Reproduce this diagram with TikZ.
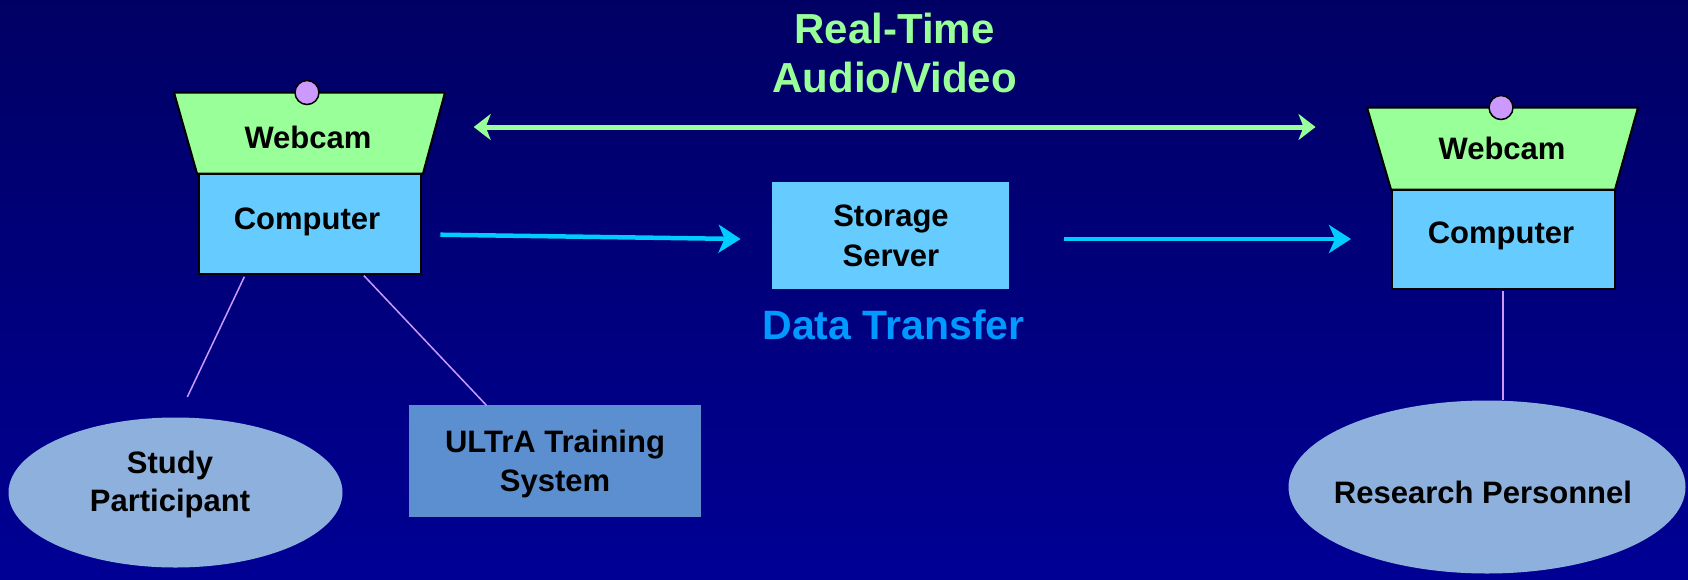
\documentclass[tikz,border=0pt]{standalone}
\usepackage{fontspec}
\setmainfont{Liberation Sans}
\usetikzlibrary{arrows.meta,shapes.geometric}
\definecolor{bgtop}{RGB}{0,0,100}
\definecolor{bgbot}{RGB}{0,0,148}
\definecolor{camgreen}{RGB}{153,255,153}
\definecolor{compblue}{RGB}{102,204,255}
\definecolor{lens}{RGB}{204,153,255}
\definecolor{ultra}{RGB}{91,143,207}
\definecolor{person}{RGB}{141,176,220}
\definecolor{datablue}{RGB}{0,153,255}
\definecolor{arrowcyan}{RGB}{0,204,255}
\definecolor{linkviolet}{RGB}{204,153,255}
\tikzset{
  lbl/.style={font=\bfseries\fontsize{31}{39}\selectfont, text=black, align=center, inner sep=0pt},
  compbox/.style={draw=black, line width=2pt, fill=compblue, minimum width=222pt, minimum height=100pt, inner sep=0pt},
  campoly/.style={draw=black, line width=2pt, fill=camgreen, line join=miter},
  lensdot/.style={circle, draw=black, line width=1.5pt, fill=lens, minimum size=24pt, inner sep=0pt},
  link/.style={draw=linkviolet, line width=1.5pt},
  avarrow/.style={draw=camgreen, line width=5pt, {Stealth[length=17pt,width=26pt,inset=5pt]}-{Stealth[length=17pt,width=26pt,inset=5pt]}},
  dataarrow/.style={draw=arrowcyan, line width=4.5pt, -{Stealth[length=22pt,width=28pt,inset=6pt]}},
}
\begin{document}
\begin{tikzpicture}[x=1pt,y=-1pt]
\shade[top color=bgtop, bottom color=bgbot] (0,0) rectangle (1688,579);
\useasboundingbox (0,0) rectangle (1688,579);

% left station
\path[campoly] (174,92.5) -- (445,92.5) -- (423,173.5) -- (197,173.5) -- cycle;
\node[lensdot] (lcircle) at (307,92.5) {};
\node[lbl] (lwebcam) at (308,137) {Webcam};
\node[compbox, minimum width=222pt] (lcomp) at (310,223.5) {};
\node[lbl] (lcomptxt) at (307,222) {Computer};

% right station
\path[campoly] (1367,107.5) -- (1638,107.5) -- (1615,189.5) -- (1391,189.5) -- cycle;
\node[lensdot] (rcircle) at (1501,107.5) {};
\node[lbl] (rwebcam) at (1502,148) {Webcam};
\node[compbox, minimum width=223pt, minimum height=99.5pt] (rcomp) at (1503.5,239.25) {};
\node[lbl] (rcomptxt) at (1501,236) {Computer};

% storage server
\node[fill=compblue, minimum width=237pt, minimum height=106.5pt, inner sep=0pt] (storage) at (890.5,235.25) {};
\node[lbl, font=\bfseries\fontsize{31}{40}\selectfont] (storagetxt) at (891,236) {Storage\\Server};
\node[inner sep=0pt, text=datablue, font=\bfseries\fontsize{41}{48}\selectfont] (datatransfer) at (893.5,325) {Data Transfer};

% real-time label
\node[inner sep=0pt, align=center, text=camgreen, font=\bfseries\fontsize{42}{48.5}\selectfont] (realtime) at (894.6,53) {Real-Time\\Audio/Video};

% ULTrA box
\node[fill=ultra, minimum width=292pt, minimum height=112pt, inner sep=0pt] (ultra) at (555,461) {};
\node[lbl] (ultratxt) at (555,464) {ULTrA Training\\System};

% ellipses
\node[ellipse, fill=person, minimum width=334pt, minimum height=150pt, inner sep=0pt] (study) at (175.5,492.5) {};
\node[lbl, font=\bfseries\fontsize{31}{38}\selectfont] (studytxt) at (170,484) {Study\\Participant};
\node[ellipse, fill=person, minimum width=397pt, minimum height=173pt, inner sep=0pt] (research) at (1487,487) {};
\node[lbl] (researchtxt) at (1483,492) {Research Personnel};

% link endpoints
\coordinate (l1a) at (244.4,276.7);
\coordinate (l1b) at (187.3,397);
\coordinate (l2a) at (363.9,275.6);
\coordinate (l2b) at (486.6,405.5);
\coordinate (l3a) at (1502.8,291);
\coordinate (l3b) at (1502.8,400);
\draw[link] (l1a) -- (l1b);
\draw[link] (l2a) -- (l2b);
\draw[link] (l3a) -- (l3b);

% arrows
\coordinate (ava) at (473.7,127);
\coordinate (avb) at (1315.5,127);
\draw[avarrow] (ava) -- (avb);
\coordinate (d1a) at (440.3,234.7);
\coordinate (d1b) at (740.6,239);
\draw[dataarrow] (d1a) -- (d1b);
\coordinate (d2a) at (1063.6,239);
\coordinate (d2b) at (1351,239);
\draw[dataarrow] (d2a) -- (d2b);
\end{tikzpicture}
\end{document}
